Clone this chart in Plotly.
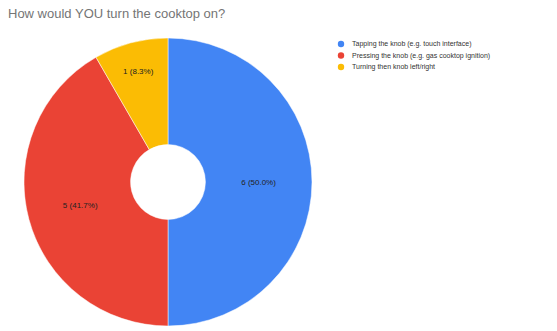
import plotly.graph_objects as go

labels = [
    "Tapping the knob (e.g. touch interface)",
    "Pressing the knob (e.g. gas cooktop ignition)",
    "Turning then knob left/right",
]
values = [6, 5, 1]
colors = ["#4285F4", "#EA4335", "#FBBC04"]

total = sum(values)
texts = [f"{v} ({v / total * 100:.1f}%)" for v in values]

W, H = 557, 331
FONT = "Arial, Liberation Sans"

fig = go.Figure(
    go.Pie(
        labels=labels,
        values=values,
        text=texts,
        textinfo="text",
        textposition="inside",
        insidetextorientation="horizontal",
        textfont=dict(family=FONT, size=8, color="#222222"),
        marker=dict(colors=colors, line=dict(color="white", width=0.5)),
        hole=0.26,
        sort=False,
        direction="clockwise",
        rotation=0,
        domain=dict(x=[24 / W, 312 / W], y=[1 - 326 / H, 1 - 38 / H]),
        hoverinfo="label+value+percent",
        showlegend=False,
    )
)

# Compact legend: coloured dot + label per slice
shapes, annotations = [], []
row0, step = 44, 11.5
for i, (lab, col) in enumerate(zip(labels, colors)):
    yc = row0 + i * step
    r = 3.2
    shapes.append(dict(
        type="circle", xref="paper", yref="paper",
        x0=(341 - r) / W, x1=(341 + r) / W,
        y0=1 - (yc + r) / H, y1=1 - (yc - r) / H,
        fillcolor=col, line=dict(width=0),
    ))
    annotations.append(dict(
        text=lab, xref="paper", yref="paper",
        x=350 / W, y=1 - yc / H, xanchor="left", yanchor="middle",
        showarrow=False, font=dict(family=FONT, size=7, color="#333333"),
    ))

fig.update_layout(
    width=W,
    height=H,
    margin=dict(l=0, r=0, t=0, b=0),
    paper_bgcolor="white",
    plot_bgcolor="white",
    showlegend=False,
    shapes=shapes,
    annotations=annotations,
    title=dict(
        text="How would YOU turn the cooktop on?",
        x=8 / W,
        xanchor="left",
        y=1 - 13 / H,
        yanchor="middle",
        font=dict(family=FONT, size=13, color="#757575"),
    ),
)

fig.write_html("out.html")
